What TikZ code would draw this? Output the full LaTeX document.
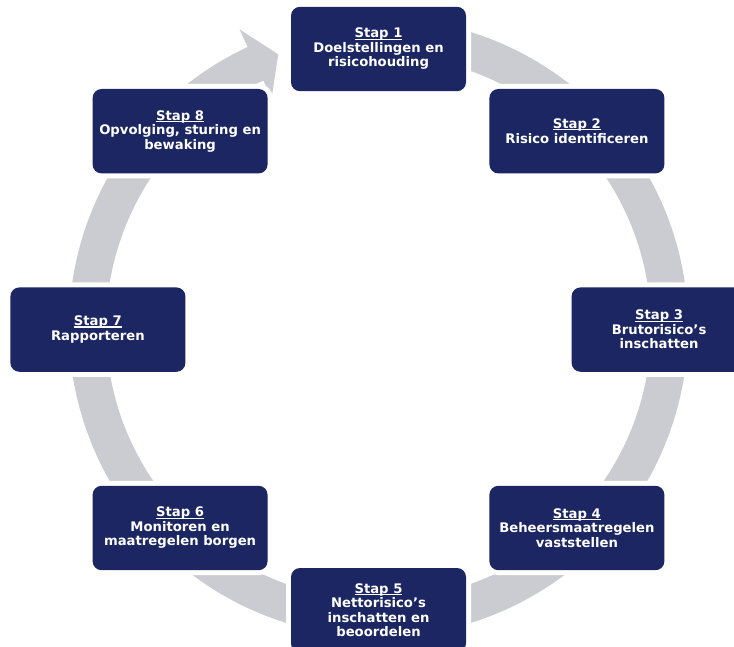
\documentclass[tikz,border=0pt]{standalone}
\usepackage{fontspec}
\setmainfont{DejaVu Sans}
\definecolor{navy}{RGB}{27,38,98}
\definecolor{ringgray}{RGB}{203,204,209}
\newcommand\stapul[1]{\setbox0\hbox{#1}\rlap{\rule[-1.7pt]{\wd0}{1.1pt}}\box0}
\begin{document}
\begin{tikzpicture}[x=1pt,y=1pt,
  stepbox/.style={fill=navy, rounded corners=9pt, minimum width=175pt,
    minimum height=84.4pt, inner sep=0pt, align=center, text=white,
    font=\fontsize{13.2}{14.5}\selectfont\bfseries,
    preaction={draw=white, line width=10pt}}]
\useasboundingbox (0,0) rectangle (734,-647);
\fill[white] (0,0) rectangle (734,-647);
\begin{scope}[shift={(378.5,-327.5)}]
  \fill[ringgray] (115:309.5) arc[start angle=115,end angle=450,radius=309.5]
    -- (450:272.5) arc[start angle=450,end angle=115,radius=272.5]
    -- (115:253) -- (110.15:291) -- (115:329) -- cycle;
\end{scope}
\node[stepbox] (s1) at (378.5,-49.0) {\stapul{Stap 1}\\Doelstellingen en\\risicohouding};
\node[stepbox] (s2) at (576.9,-131.2) {\stapul{Stap 2}\\Risico identificeren};
\node[stepbox] (s3) at (659.1,-329.6) {\stapul{Stap 3}\\Brutorisico’s\\inschatten};
\node[stepbox] (s4) at (576.9,-528.0) {\stapul{Stap 4}\\Beheersmaatregelen\\vaststellen};
\node[stepbox] (s5) at (378.5,-610.2) {\stapul{Stap 5}\\Nettorisico’s\\inschatten en\\beoordelen};
\node[stepbox] (s6) at (180.1,-528.0) {\stapul{Stap 6}\\Monitoren en\\maatregelen borgen};
\node[stepbox] (s7) at (97.9,-329.6) {\stapul{Stap 7}\\Rapporteren};
\node[stepbox] (s8) at (180.1,-131.2) {\stapul{Stap 8}\\Opvolging, sturing en\\bewaking};
\end{tikzpicture}
\end{document}
